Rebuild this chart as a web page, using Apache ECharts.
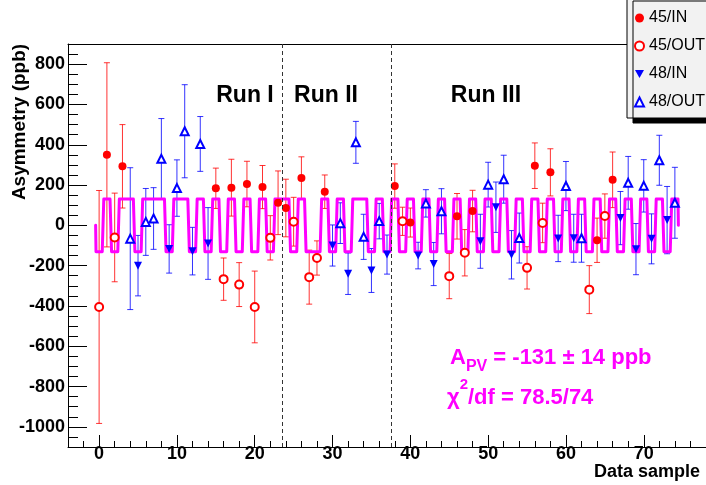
<!DOCTYPE html>
<html><head><meta charset="utf-8">
<script src="https://cdn.jsdelivr.net/npm/echarts@6/dist/echarts.min.js"></script>
<style>html,body{margin:0;padding:0;background:#fff}#chart{width:706px;height:485px}</style>
</head><body><div id="chart"></div>
<script>
// ---- data ----
const sampleTypes = [
 '45/OUT','45/IN','45/OUT','45/IN','48/OUT','48/IN','48/OUT','48/OUT','48/OUT','48/IN',
 '48/OUT','48/OUT','48/IN','48/OUT','48/IN','45/IN','45/OUT','45/IN','45/OUT','45/IN',
 '45/OUT','45/IN','45/OUT','45/IN','45/IN','45/OUT','45/IN','45/OUT','45/OUT','45/IN',
 '48/IN','48/OUT','48/IN','48/OUT','48/OUT','48/IN','48/OUT','48/IN','45/IN','45/OUT',
 '45/IN','48/IN','48/OUT','48/IN','48/OUT','45/OUT','45/IN','45/OUT','45/IN','48/IN',
 '48/OUT','48/IN','48/OUT','48/IN','48/OUT','45/OUT','45/IN','45/OUT','45/IN','48/IN',
 '48/OUT','48/IN','48/OUT','45/OUT','45/IN','45/OUT','45/IN','48/IN','48/OUT','48/IN',
 '48/OUT','48/IN','48/OUT','48/IN','48/OUT'
];
const asymmetry = [
 -405, 350, -60, 293, -66, -200, 17, 34, 330, -117,
 185, 467, -128, 404, -90, 184, -267, 187, -294, 205,
 -405, 190, -62, 112, 86, 18, 235, -257, -162, 167,
 -100, 11, -240, 412, -57, -224, 21, -145, 195, 20,
 14, -150, 109, -192, 70, -252, 45, -136, 71, -79,
 202, 90, 229, -146, -63, -211, 296, 12, 263, -65,
 195, -64, -64, -319, -74, 46, 226, 36, 211, -118,
 196, -67, 323, 26, 112
];
const asymError = [
 578, 457, 220, 207, 352, 150, 166, 153, 200, 120,
 140, 231, 118, 136, 178, 100, 105, 141, 109, 113,
 178, 107, 110, 158, 143, 121, 105, 134, 85, 83,
 102, 101, 103, 104, 112, 109, 88, 97, 110, 70,
 72, 66, 68, 107, 112, 112, 113, 115, 103, 134,
 111, 125, 119, 120, 124, 105, 113, 98, 117, 115,
 122, 119, 119, 119, 110, 110, 138, 132, 131, 127,
 130, 124, 124, 167, 176
];
const seriesNames = ['45/IN', '45/OUT', '48/IN', '48/OUT'];
const fitAmplitude = 131;          // |A_PV| in ppb
const positiveTypes = ['45/IN', '48/OUT'];
const runBoundaries = [23.5, 37.5];
const runLabels = ['Run I', 'Run II', 'Run III'];
const fitTextLine1 = ['A', 'PV', ' = -131 \u00b1 14 ppb'];
const fitTextLine2 = ['\u03c7', '2', '/df = 78.5/74'];

// ---- styling ----
const FONT = 'Liberation Sans, Arial, Helvetica, sans-serif';
const typeStyle = {
  '45/IN':  {color: '#ff0000', symbol: 'circle', size: 8},
  '45/OUT': {color: '#ff0000', symbol: 'emptyCircle', size: 8},
  '48/IN':  {color: '#0000ff', symbol: 'path://M0,0L10,0L5,9Z', size: [8, 8]},
  '48/OUT': {color: '#0000ff', symbol: 'emptyTriangle', size: 8}
};

// fit step curve built from the sample types
const fitPoints = [[-0.45, 0]];
sampleTypes.forEach((t, i) => {
  const v = (positiveTypes.indexOf(t) >= 0 ? 1 : -1) * fitAmplitude;
  fitPoints.push([i - 0.4, v], [i + 0.4, v]);
});
fitPoints.push([sampleTypes.length - 1 + 0.45, 0]);

const series = [];
seriesNames.forEach(name => {
  const st = typeStyle[name];
  const pts = [], errs = [];
  sampleTypes.forEach((t, i) => {
    if (t === name) { pts.push([i, asymmetry[i]]); errs.push([i, asymmetry[i], asymError[i]]); }
  });
  series.push({
    type: 'custom', name: 'err ' + name, data: errs, z: 2, silent: true,
    encode: {x: 0, y: 1},
    renderItem: function (params, api) {
      const x = api.value(0), y = api.value(1), e = api.value(2);
      const top = api.coord([x, y + e]), bot = api.coord([x, y - e]);
      const s = {stroke: st.color, lineWidth: 1, opacity: 0.8};
      return {type: 'group', children: [
        {type: 'line', shape: {x1: top[0], y1: top[1], x2: bot[0], y2: bot[1]}, style: s},
        {type: 'line', shape: {x1: top[0] - 3, y1: top[1], x2: top[0] + 3, y2: top[1]}, style: s},
        {type: 'line', shape: {x1: bot[0] - 3, y1: bot[1], x2: bot[0] + 3, y2: bot[1]}, style: s}
      ]};
    }
  });
  series.push({
    type: 'scatter', name: name, data: pts, z: 4,
    symbol: st.symbol, symbolSize: st.size,
    itemStyle: {color: st.color, borderWidth: st.symbol.indexOf('empty') === 0 ? 1.2 : 0, opacity: 1}
  });
});
series.push({
  type: 'line', name: 'fit', data: fitPoints, z: 3, showSymbol: false, symbol: 'none',
  lineStyle: {color: '#ff00ff', width: 3, join: 'round', cap: 'round'},
  silent: true,
  markLine: {
    silent: true, symbol: 'none', label: {show: false},
    lineStyle: {color: '#333', width: 1, type: [4, 3]},
    data: runBoundaries.map(v => ({xAxis: v}))
  }
});

const axisText = {fontSize: 18, fontWeight: 'bold', color: '#000', fontFamily: FONT};
const plainNum = v => String(v);
const option = {
  animation: false,
  backgroundColor: '#fff',
  grid: {left: 68, top: 44, width: 642, height: 403, containLabel: false},
  xAxis: [
    {type: 'value', min: -4, max: 78, splitNumber: 8, position: 'bottom',
     axisLine: {onZero: false, lineStyle: {color: '#000', width: 1}},
     axisTick: {inside: true, length: 12, lineStyle: {color: '#000'}},
     axisLabel: Object.assign({showMinLabel: false, showMaxLabel: false, margin: -2, formatter: plainNum}, axisText),
     splitLine: {show: false}},
    {type: 'value', min: -4, max: 78, interval: 2, position: 'bottom',
     axisLine: {show: false, onZero: false}, axisTick: {inside: true, length: 6, lineStyle: {color: '#000'}},
     axisLabel: {show: false}, splitLine: {show: false}},
    {type: 'value', min: -4, max: 78, position: 'top',
     axisLine: {show: true, onZero: false, lineStyle: {color: '#000', width: 1}}, axisTick: {show: false},
     axisLabel: {show: false}, splitLine: {show: false}}
  ],
  yAxis: [
    {type: 'value', min: -1100, max: 900, splitNumber: 10, position: 'left',
     axisLine: {show: true, onZero: false, lineStyle: {color: '#000', width: 1}},
     axisTick: {show: true, inside: true, length: 19, lineStyle: {color: '#000'}},
     axisLabel: Object.assign({showMinLabel: false, showMaxLabel: false, margin: 3, formatter: plainNum}, axisText),
     splitLine: {show: false}},
    {type: 'value', min: -1100, max: 900, interval: 50, position: 'left',
     axisLine: {show: false, onZero: false}, axisTick: {show: true, inside: true, length: 10, lineStyle: {color: '#000'}},
     axisLabel: {show: false}, splitLine: {show: false}}
  ],
  legend: {
    data: seriesNames, orient: 'vertical', left: 627, top: -4,
    padding: [14, 30, 8, 7], itemWidth: 9, itemHeight: 9, itemGap: 12,
    selectedMode: false,
    backgroundColor: '#f2f2f2', borderColor: '#000', borderWidth: 1,
    shadowColor: '#000', shadowOffsetX: 6, shadowOffsetY: 5, shadowBlur: 0,
    textStyle: {fontSize: 16, fontFamily: FONT, color: '#000', lineHeight: 16}
  },
  series: series,
  graphic: [
    {type: 'text', x: 20, y: 122, rotation: Math.PI / 2,
     style: {text: 'Asymmetry (ppb)', font: 'bold 19px ' + FONT, fill: '#000', align: 'center', verticalAlign: 'middle'}},
    {type: 'text', x: 700, y: 472,
     style: {text: 'Data sample', font: 'bold 18px ' + FONT, fill: '#000', align: 'right', verticalAlign: 'middle'}},
    {type: 'text', x: 245, y: 96,
     style: {text: runLabels[0], font: 'bold 23px ' + FONT, fill: '#000', align: 'center', verticalAlign: 'middle'}},
    {type: 'text', x: 326, y: 96,
     style: {text: runLabels[1], font: 'bold 23px ' + FONT, fill: '#000', align: 'center', verticalAlign: 'middle'}},
    {type: 'text', x: 486, y: 96,
     style: {text: runLabels[2], font: 'bold 23px ' + FONT, fill: '#000', align: 'center', verticalAlign: 'middle'}},
    {type: 'text', x: 450, y: 347,
     style: {
       text: '{b|' + fitTextLine1[0] + '}{s|' + fitTextLine1[1] + '}{b|' + fitTextLine1[2] + '}',
       align: 'left', verticalAlign: 'top',
       rich: {
         b: {fontSize: 22, fontWeight: 'bold', fontFamily: FONT, fill: '#ff00ff', lineHeight: 22, verticalAlign: 'top'},
         s: {fontSize: 16, fontWeight: 'bold', fontFamily: FONT, fill: '#ff00ff', lineHeight: 16, padding: [12, 0, 0, 0], verticalAlign: 'top'}
       }
     }},
    {type: 'text', x: 447, y: 377,
     style: {
       text: '{b|' + fitTextLine2[0] + '}{p|' + fitTextLine2[1] + '}{b|' + fitTextLine2[2] + '}',
       align: 'left', verticalAlign: 'top',
       rich: {
         b: {fontSize: 22, fontWeight: 'bold', fontFamily: FONT, fill: '#ff00ff', lineHeight: 22, padding: [10, 0, 0, 0], verticalAlign: 'top'},
         p: {fontSize: 15, fontWeight: 'bold', fontFamily: FONT, fill: '#ff00ff', lineHeight: 15, verticalAlign: 'top'}
       }
     }}
  ]
};
const chart = echarts.init(document.getElementById('chart'), null, {renderer: 'canvas'});
chart.setOption(option);
</script></body></html>
